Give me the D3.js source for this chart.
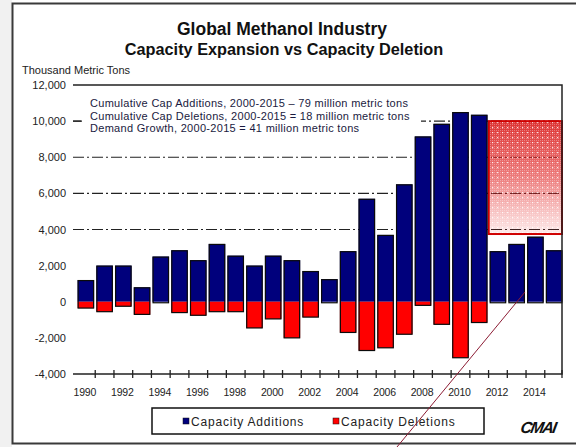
<!DOCTYPE html>
<html>
<head>
<meta charset="utf-8">
<script src="https://cdn.jsdelivr.net/npm/d3@7/dist/d3.min.js"></script>
<style>
  html, body { margin: 0; padding: 0; background: #fff; }
  svg { display: block; font-family: "Liberation Sans", Arial, sans-serif; }
</style>
</head>
<body>
<svg id="chart" width="576" height="447"></svg>
<script>
// Annual global methanol capacity changes, thousand metric tons
const years = [1990, 1991, 1992, 1993, 1994, 1995, 1996, 1997, 1998, 1999,
               2000, 2001, 2002, 2003, 2004, 2005, 2006, 2007, 2008, 2009,
               2010, 2011, 2012, 2013, 2014, 2015];
const additions = [1200, 2000, 2000, 800, 2500, 2850, 2300, 3200, 2550, 2000,
                   2550, 2300, 1700, 1250, 2800, 5700, 3700, 6500, 9150, 9850,
                   10500, 10350, 2800, 3200, 3600, 2850];
const deletions = [-350, -550, -250, -700, 0, -600, -750, -550, -550, -1450,
                   -950, -2000, -850, 0, -1700, -2700, -2550, -1800, -200, -1250,
                   -3100, -1150, 0, 0, 0, 0];
const yTicks = [12000, 10000, 8000, 6000, 4000, 2000, 0, -2000, -4000];
const gridValues = [10000, 8000, 6000, 4000];
const xLabelYears = [1990, 1992, 1994, 1996, 1998, 2000, 2002, 2004, 2006, 2008, 2010, 2012, 2014];
const projectionYears = [2012, 2015];
const projectionRange = [3750, 10000];
const notes = [
  "Cumulative Cap Additions, 2000-2015 \u2013  79 million metric tons",
  "Cumulative Cap Deletions, 2000-2015 =  18 million metric tons",
  "Demand Growth, 2000-2015 = 41 million metric tons"
];
const seriesNames = ["Capacity Additions", "Capacity Deletions"];

const BLUE = "#00007c", RED = "#ff0000";
const svg = d3.select("#chart");

// page frame
svg.append("rect").attr("x", 0).attr("y", 0).attr("width", 12).attr("height", 447).attr("fill", "#f1f1f1");
svg.append("path").attr("d", "M576,3.5H12.5V443.5H576").attr("fill", "none")
  .attr("stroke", "#3a3a3a").attr("stroke-width", 2);

const left = 73, right = 562;
const x = d3.scaleBand().domain(years).range([76.5, 563.5]).paddingInner(0.12).paddingOuter(0.06);
const y = d3.scaleLinear().domain([-4000, 12000]).range([374, 85]);
const fmt = v => d3.format(",")(v).replace("\u2212", "-");

// titles
svg.append("text").attr("x", 282).attr("y", 35).attr("text-anchor", "middle")
  .attr("font-size", 17.5).attr("font-weight", "bold").attr("fill", "#111")
  .text("Global Methanol Industry");
svg.append("text").attr("x", 284).attr("y", 55).attr("text-anchor", "middle")
  .attr("font-size", 16.3).attr("font-weight", "bold").attr("fill", "#111")
  .text("Capacity Expansion vs Capacity Deletion");
svg.append("text").attr("x", 22).attr("y", 74).attr("font-size", 11).attr("fill", "#222")
  .text("Thousand Metric Tons");

// y tick labels
svg.append("g").selectAll("text").data(yTicks).join("text")
  .attr("x", 66).attr("y", d => y(d) + 4).attr("text-anchor", "end")
  .attr("font-size", 11).attr("fill", "#222")
  .text(fmt);

// dash-dot gridlines
svg.append("g").selectAll("line").data(gridValues).join("line")
  .attr("x1", left).attr("x2", right).attr("y1", d => y(d)).attr("y2", d => y(d))
  .attr("stroke", "#222").attr("stroke-width", 1.2).attr("stroke-dasharray", "11,3,2,3");

// projected demand block
const defs = svg.append("defs");
const grad = defs.append("linearGradient").attr("id", "projFade").attr("x1", 0).attr("y1", 0).attr("x2", 0).attr("y2", 1);
grad.append("stop").attr("offset", "0%").attr("stop-color", "#d40000").attr("stop-opacity", 0.8);
grad.append("stop").attr("offset", "50%").attr("stop-color", "#dd1010").attr("stop-opacity", 0.55);
grad.append("stop").attr("offset", "100%").attr("stop-color", "#e83030").attr("stop-opacity", 0.1);
const pat = defs.append("pattern").attr("id", "projDots").attr("width", 5).attr("height", 5)
  .attr("patternUnits", "userSpaceOnUse");
pat.append("rect").attr("x", 2).attr("y", 2).attr("width", 1.2).attr("height", 1.2).attr("fill", "#fff").attr("opacity", 0.85);
const fine = defs.append("pattern").attr("id", "projFine").attr("width", 2).attr("height", 2)
  .attr("patternUnits", "userSpaceOnUse");
fine.append("rect").attr("width", 1).attr("height", 1).attr("fill", "#fff").attr("opacity", 0.3);

const px0 = x(projectionYears[0]) - 1, px1 = right;
const py0 = y(projectionRange[1]), py1 = y(projectionRange[0]);
const proj = svg.append("g");
["url(#projFade)", "url(#projFine)", "url(#projDots)"].forEach(f => {
  proj.append("rect").attr("x", px0).attr("y", py0).attr("width", px1 - px0).attr("height", py1 - py0)
    .attr("fill", f);
});
proj.append("rect").attr("x", px0).attr("y", py0).attr("width", px1 - px0).attr("height", py1 - py0)
  .attr("fill", "none").attr("stroke", "#d00000").attr("stroke-width", 2);

// note block sits on a white panel over the upper gridline
svg.append("rect").attr("x", 82).attr("y", 94).attr("width", 339).attr("height", 42).attr("fill", "#fff");
svg.append("line").attr("x1", left).attr("x2", 81).attr("y1", y(10000)).attr("y2", y(10000))
  .attr("stroke", "#222").attr("stroke-width", 1.2);
svg.append("g").selectAll("text").data(notes).join("text")
  .attr("x", 90).attr("y", (d, i) => 107 + i * 12.5)
  .attr("font-size", 11).attr("fill", "#1a1a40").attr("letter-spacing", 0.3)
  .text(d => d);

// bars
const bars = svg.append("g");
years.forEach((yr, i) => {
  const bx = x(yr), bw = x.bandwidth();
  bars.append("rect").attr("x", bx).attr("width", bw)
    .attr("y", y(additions[i])).attr("height", y(0) - y(additions[i])).attr("fill", BLUE);
  if (deletions[i] < 0) {
    bars.append("rect").attr("x", bx).attr("width", bw)
      .attr("y", y(0)).attr("height", y(deletions[i]) - y(0)).attr("fill", RED);
  }
  bars.append("rect").attr("x", bx + 0.5).attr("width", bw - 1)
    .attr("y", y(additions[i]) + 0.5).attr("height", y(deletions[i]) - y(additions[i]) - 0.5 + (deletions[i] < 0 ? 0 : 1))
    .attr("fill", "none").attr("stroke", "#0a0a0a").attr("stroke-width", 1.2);
});

// plot frame: top, right, bottom
svg.append("path").attr("d", `M${left},${y(12000)}H${right}V${y(-4000)}H${left}`)
  .attr("fill", "none").attr("stroke", "#222").attr("stroke-width", 1.5);

// x ticks at band boundaries
const gap = x.step() - x.bandwidth();
const tickXs = years.slice(1).map(yr => x(yr) - gap / 2).concat([right]);
svg.append("g").selectAll("line").data(tickXs).join("line")
  .attr("x1", d => d).attr("x2", d => d).attr("y1", y(-4000) - 4).attr("y2", y(-4000) + 4)
  .attr("stroke", "#222").attr("stroke-width", 1.3);

// x labels
svg.append("g").selectAll("text").data(xLabelYears).join("text")
  .attr("x", d => x(d) + x.bandwidth() / 2 - 1).attr("y", 396).attr("text-anchor", "middle")
  .attr("font-size", 10.5).attr("fill", "#222").attr("letter-spacing", -0.2)
  .text(d => d);

// legend
const lg = svg.append("g");
lg.append("rect").attr("x", 152).attr("y", 408).attr("width", 332).attr("height", 26)
  .attr("fill", "#fff").attr("stroke", "#111").attr("stroke-width", 1.5);
const legendItems = [{ name: seriesNames[0], color: BLUE, x: 183 }, { name: seriesNames[1], color: RED, x: 333 }];
legendItems.forEach(it => {
  lg.append("rect").attr("x", it.x).attr("y", 418).attr("width", 6).attr("height", 6)
    .attr("fill", it.color).attr("stroke", "#111").attr("stroke-width", 0.5);
  lg.append("text").attr("x", it.x + 8).attr("y", 425.5).attr("font-size", 12).attr("fill", "#222")
    .attr("letter-spacing", 0.8).text(it.name);
});

// company mark
svg.append("text").attr("x", 520).attr("y", 433).attr("font-size", 16).attr("font-weight", "bold")
  .attr("font-style", "italic").attr("letter-spacing", -1.5).attr("fill", "#111")
  .attr("transform", "skewX(-10) translate(76,0)").text("CMAI");

// pointer line
svg.append("line").attr("x1", 397).attr("y1", 447).attr("x2", 525).attr("y2", 292)
  .attr("stroke", "#8c1c34").attr("stroke-width", 1);
</script>
</body>
</html>
